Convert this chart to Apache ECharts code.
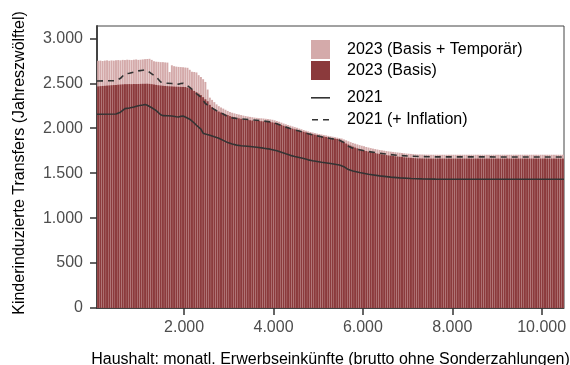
<!DOCTYPE html>
<html><head><meta charset="utf-8">
<script src="https://cdn.jsdelivr.net/npm/echarts@6/dist/echarts.min.js"></script>
<style>html,body{margin:0;padding:0;background:#fff}#c{width:570px;height:365px}</style>
</head><body><div id="c"></div>
<script>
// Income grid (bar centres, EUR): start and step of the 50-EUR bins
const incomeStart = 75, incomeStep = 50;

// 2023 (Basis + Temporär): total height of the light bars
const totalBasisTemp = [
  2750,2752,2748,2752,2755,2750,2754,2752,2756,2758,
  2755,2760,2758,2762,2760,2758,2762,2765,2760,2762,
  2765,2768,2770,2772,2760,2745,2740,2738,2735,2735,
  2732,2730,2625,2700,2690,2685,2682,2680,2678,2675,
  2672,2650,2628,2625,2620,2590,2570,2545,2515,2430,
  2340,2315,2290,2265,2245,2230,2218,2205,2192,2180,
  2172,2165,2158,2152,2146,2140,2135,2130,2126,2122,
  2118,2115,2112,2110,2108,2105,2102,2098,2094,2088,
  2080,2072,2062,2052,2044,2036,2028,2020,2012,2004,
  1996,1988,1980,1972,1965,1958,1952,1946,1940,1935,
  1930,1925,1920,1915,1910,1905,1900,1895,1890,1885,
  1875,1865,1855,1845,1836,1828,1820,1812,1805,1798,
  1791,1785,1779,1773,1768,1763,1758,1754,1750,1746,
  1742,1739,1736,1733,1730,1727,1724,1721,1718,1716,
  1714,1712,1710,1708,1708,1707,1707,1706,1706,1705,
  1705,1705,1705,1705,1705,1705,1705,1705,1705,1705,
  1705,1705,1705,1705,1705,1705,1705,1705,1705,1705,
  1705,1705,1705,1705,1705,1705,1705,1705,1705,1705,
  1705,1705,1705,1705,1705,1705,1705,1705,1705,1705,
  1705,1705,1705,1705,1705,1705,1705,1705,1705,1705,
  1705,1705,1705,1705,1705,1705,1705,1705,1705
];

// 2023 (Basis): dark bars
const basis = [
  2465,2468,2470,2472,2474,2476,2478,2480,2482,2484,
  2486,2488,2490,2490,2491,2490,2492,2491,2492,2493,
  2494,2494,2495,2493,2490,2486,2482,2478,2475,2472,
  2470,2468,2466,2465,2463,2462,2461,2460,2459,2458,
  2452,2445,2430,2415,2400,2385,2368,2345,2322,2300,
  2260,2235,2215,2198,2185,2175,2165,2155,2146,2135,
  2128,2122,2116,2110,2105,2100,2096,2092,2089,2086,
  2084,2082,2080,2078,2076,2074,2072,2069,2065,2060,
  2053,2045,2036,2027,2018,2010,2002,1995,1988,1981,
  1974,1967,1960,1953,1946,1940,1934,1928,1922,1917,
  1912,1907,1902,1897,1892,1888,1884,1880,1875,1860,
  1845,1830,1818,1806,1795,1785,1776,1768,1760,1753,
  1746,1740,1734,1728,1723,1718,1713,1709,1705,1701,
  1697,1694,1691,1688,1685,1682,1679,1676,1674,1672,
  1670,1668,1666,1664,1664,1663,1663,1663,1662,1662,
  1662,1662,1662,1662,1662,1662,1662,1662,1662,1662,
  1662,1662,1662,1662,1662,1662,1662,1662,1662,1662,
  1662,1662,1662,1662,1662,1662,1662,1662,1662,1662,
  1662,1662,1662,1662,1662,1662,1662,1662,1662,1662,
  1662,1662,1662,1662,1662,1662,1662,1662,1662,1662,
  1662,1662,1662,1662,1662,1662,1662,1662,1662
];

// 2021 lines: incomes and values
const lineIncome = [50,475,575,675,775,875,975,1075,1125,1175,1275,1375,1475,1525,1625,1725,1825,1875,1925,1975,2025,2125,2225,2275,2375,2425,2475,2575,2675,2775,2875,2975,3075,3175,3275,3475,3625,3775,3925,4075,4175,4275,4375,4475,4575,4675,4775,4875,5075,5275,5475,5575,5675,5775,5925,6125,6375,6625,6825,7075,7325,7625,10500];
const line2021 = [2156,2158,2178,2218,2224,2236,2250,2258,2264,2256,2228,2196,2150,2140,2138,2135,2128,2125,2132,2136,2125,2100,2058,2033,1990,1945,1935,1922,1905,1889,1865,1840,1824,1812,1805,1796,1788,1778,1767,1750,1733,1715,1698,1686,1675,1662,1648,1638,1622,1607,1590,1572,1540,1525,1508,1488,1470,1456,1448,1441,1436,1434,1433];
const line2021Infl = [2526,2528,2555,2605,2612,2625,2638,2645,2648,2640,2605,2570,2515,2503,2500,2497,2492,2490,2497,2500,2488,2455,2410,2385,2345,2310,2275,2240,2210,2180,2158,2128,2115,2108,2103,2095,2089,2080,2070,2050,2030,2012,1996,1982,1968,1955,1938,1925,1904,1886,1866,1842,1800,1778,1760,1740,1722,1706,1696,1688,1684,1681,1680];

const xTicks = [2000,4000,6000,8000,10000];
const yTicks = [0,500,1000,1500,2000,2500,3000];
const names = ['2023 (Basis + Temporär)','2023 (Basis)','2021','2021 (+ Inflation)'];

const incomes = totalBasisTemp.map((_, i) => incomeStart + incomeStep * i);
const pair = (xs, ys) => ys.map((v, i) => [xs[i], v]);
const fmt = v => String(v).replace(/\B(?=(\d{3})+(?!\d))/g, '.');
const font = 'Liberation Sans, Arial, sans-serif';
const FS = 16;

const solidIcon = 'path://M0,0 M0,9 L19,9 L19,10.6 L0,10.6 Z M19,19';
const dashIcon = 'path://M0,0 M1,9 L7,9 L7,10.6 L1,10.6 Z M12,9 L18,9 L18,10.6 L12,10.6 Z M19,19';
const legendText = {fontFamily: font, fontSize: FS, color: '#000', padding: [0, 0, 0, 12]};

const chart = echarts.init(document.getElementById('c'), null, {renderer: 'canvas'});
chart.setOption({
  animation: false,
  grid: {left: 97, right: 6, top: 26, bottom: 57, show: true, borderColor: '#444', borderWidth: 1,
         containLabel: false, outerBoundsMode: 'none'},
  legend: [
    {orient: 'vertical', left: 311, top: 40, padding: 0, itemWidth: 19, itemHeight: 19, itemGap: 2,
     data: [{name: names[0], icon: 'rect'}, {name: names[1], icon: 'rect'}], textStyle: legendText},
    {orient: 'vertical', left: 311, top: 88, padding: 0, itemWidth: 19, itemHeight: 19, itemGap: 3,
     data: [{name: names[2], icon: solidIcon, itemStyle: {color: '#333'}},
            {name: names[3], icon: dashIcon, itemStyle: {color: '#333'}}], textStyle: legendText}
  ],
  xAxis: {
    type: 'value', min: 50, max: 10500,
    name: 'Haushalt: monatl. Erwerbseinkünfte (brutto ohne Sonderzahlungen)',
    nameLocation: 'middle', nameGap: 44,
    nameTextStyle: {fontFamily: font, fontSize: FS, color: '#000'},
    axisLine: {show: true, lineStyle: {color: '#444', width: 1}},
    axisTick: {show: true, customValues: xTicks, length: 7, lineStyle: {color: '#333', width: 1.5}},
    axisLabel: {customValues: xTicks, formatter: fmt, fontFamily: font, fontSize: FS, color: '#4d4d4d', margin: 12},
    splitLine: {show: false}
  },
  yAxis: {
    type: 'value', min: 0, max: 3137,
    name: 'Kinderinduzierte Transfers (Jahreszwölftel)',
    nameLocation: 'middle', nameGap: 69,
    nameTextStyle: {fontFamily: font, fontSize: FS, color: '#000', padding: [0, 0, 0, 8]},
    axisLine: {show: true, lineStyle: {color: '#444', width: 2}},
    axisTick: {show: true, customValues: yTicks, length: 7, lineStyle: {color: '#333', width: 1.5}},
    axisLabel: {customValues: yTicks, formatter: fmt, fontFamily: font, fontSize: FS, color: '#4d4d4d', margin: 14},
    splitLine: {show: false}
  },
  series: [
    {name: names[0], type: 'bar', data: pair(incomes, totalBasisTemp), barWidth: 1.95,
     itemStyle: {color: '#d4aaaa'}},
    {name: names[1], type: 'bar', data: pair(incomes, basis), barWidth: 1.95, barGap: '-100%',
     itemStyle: {color: '#8b3a3c'}},
    {name: names[2], type: 'line', data: pair(lineIncome, line2021), symbol: 'none',
     itemStyle: {color: '#333'}, lineStyle: {color: '#333', width: 1.6}, z: 5},
    {name: names[3], type: 'line', data: pair(lineIncome, line2021Infl), symbol: 'none',
     itemStyle: {color: '#333'}, lineStyle: {color: '#333', width: 1.6, type: [6, 5]}, z: 5}
  ]
});
</script></body></html>
